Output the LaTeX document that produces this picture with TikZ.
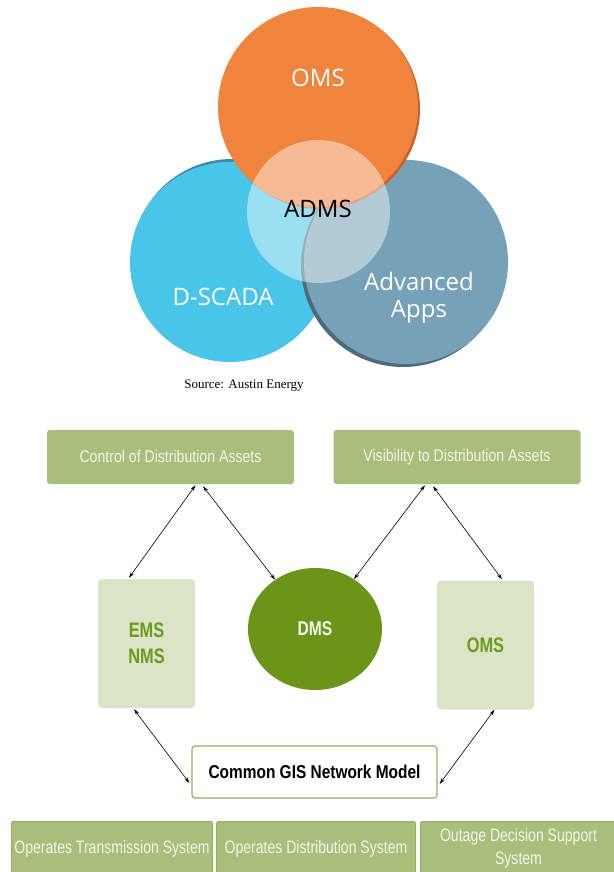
\documentclass[tikz,border=0pt]{standalone}
\usepackage{fontspec}
\setmainfont{Open Sans}
\newfontfamily\narrowfont[FakeStretch=0.78]{Liberation Sans}
\newfontfamily\narrowfontb[FakeStretch=0.83]{Liberation Sans}
\newfontfamily\srcfont{Liberation Serif}
\usetikzlibrary{shapes.geometric,arrows.meta,calc}
\definecolor{omsor}{HTML}{F0843D}
\definecolor{omssh}{HTML}{C0662C}
\definecolor{scadac}{HTML}{48C5E8}
\definecolor{scadash}{HTML}{3A8EA2}
\definecolor{appsc}{HTML}{76A1B7}
\definecolor{appssh}{HTML}{4D6B7A}
\definecolor{boxgreen}{HTML}{A8BE7A}
\definecolor{boxborder}{HTML}{93B260}
\definecolor{lightgreen}{HTML}{DCE4C8}
\definecolor{dmsgreen}{HTML}{6B9419}
\definecolor{txtgreen}{HTML}{6B9A1F}
\definecolor{paletext}{HTML}{F3F6EC}
\tikzset{
  venntext/.style={text=white,font=\fontsize{24}{28}\selectfont,align=center,inner sep=0pt},
  topbox/.style={fill=boxgreen,rounded corners=3pt,minimum width=247pt,minimum height=54pt,inner sep=0pt,text=paletext,font=\narrowfontb\fontsize{17}{20}\selectfont},
  sidebox/.style={fill=lightgreen,rounded corners=4pt,minimum width=97pt,minimum height=129pt,inner sep=0pt,text=txtgreen,font=\narrowfont\bfseries\fontsize{21}{24}\selectfont,align=center},
  gisbox/.style={fill=white,draw=boxborder,line width=1.2pt,rounded corners=3pt,minimum width=245pt,minimum height=52pt,inner sep=0pt,font=\narrowfontb\bfseries\fontsize{18.6}{21}\selectfont},
  botbox/.style={fill=boxgreen,draw=boxborder,line width=1pt,rounded corners=2pt,minimum height=54pt,inner sep=0pt,text=paletext,font=\narrowfont\fontsize{18}{21}\selectfont,align=center,anchor=north west},
  link/.style={line width=0.6pt,{Stealth[length=6pt,width=3.5pt]}-{Stealth[length=6pt,width=3.5pt]}}
}
\begin{document}
\begin{tikzpicture}[x=1pt,y=-1pt]
\useasboundingbox (0,0) rectangle (613,872);
\fill[white] (0,0) rectangle (613,872);
% Venn circles
\fill[scadash] (232,259) circle (100);
\fill[scadac] (230,262) circle (100);
\fill[appssh] (403,265) circle (102);
\fill[appsc] (406,262) circle (102);
\fill[omssh] (320,109) circle (100);
\fill[omsor] (318,107) circle (100);
\fill[white,opacity=0.45] (318.5,211.5) circle (71.5);
\node[venntext] (voms) at (318,78) {OMS};
\node[venntext,text=black] (vadms) at (318,209) {ADMS};
\node[venntext] (vscada) at (223,297) {D-SCADA};
\node[venntext] (vapps) at (419,298) {Advanced\\[-1pt]Apps};
\node[font=\srcfont\fontsize{13}{15}\selectfont,inner sep=0pt] (src) at (244,386) {Source: Austin Energy};
% lower diagram
\node[topbox] (ctrl) at (170.5,457) {\raisebox{1.5pt}{Control of Distribution Assets}};
\node[topbox] (vis) at (457,457) {\raisebox{1.5pt}{Visibility to Distribution Assets}};
\node[sidebox] (ems) at (146.5,643.5) {EMS\\[2pt]NMS};
\node[ellipse,fill=dmsgreen,minimum width=134pt,minimum height=122pt,inner sep=0pt,text=paletext,font=\narrowfont\bfseries\fontsize{20}{24}\selectfont] (dms) at (315,629) {DMS};
\node[sidebox] (oms) at (485.5,645) {OMS};
\node[gisbox] (gis) at (314.5,772) {Common GIS Network Model};
\node[botbox,minimum width=201pt] (b1) at (11,821) {Operates Transmission System};
\node[botbox,minimum width=199pt] (b2) at (216,821) {Operates Distribution System};
\node[botbox,minimum width=196pt] (b3) at (420,821) {Outage Decision Support\\[1.5pt]System};
% connectors
\draw[link] ($(ctrl.south)+(25,1)$) -- ($(ems.north)+(-17.5,-1)$);
\draw[link] ($(ctrl.south)+(32.5,2)$) -- (dms.129);
\draw[link] ($(vis.south)+(-32,1)$) -- (dms.52);
\draw[link] ($(vis.south)+(-24,2)$) -- ($(oms.north)+(16.5,-1)$);
\draw[link] ($(ems.south)+(-12.5,1)$) -- ($(gis.west)+(-2,11)$);
\draw[link] ($(oms.south)+(9,0)$) -- ($(gis.east)+(2,12)$);
\end{tikzpicture}
\end{document}
